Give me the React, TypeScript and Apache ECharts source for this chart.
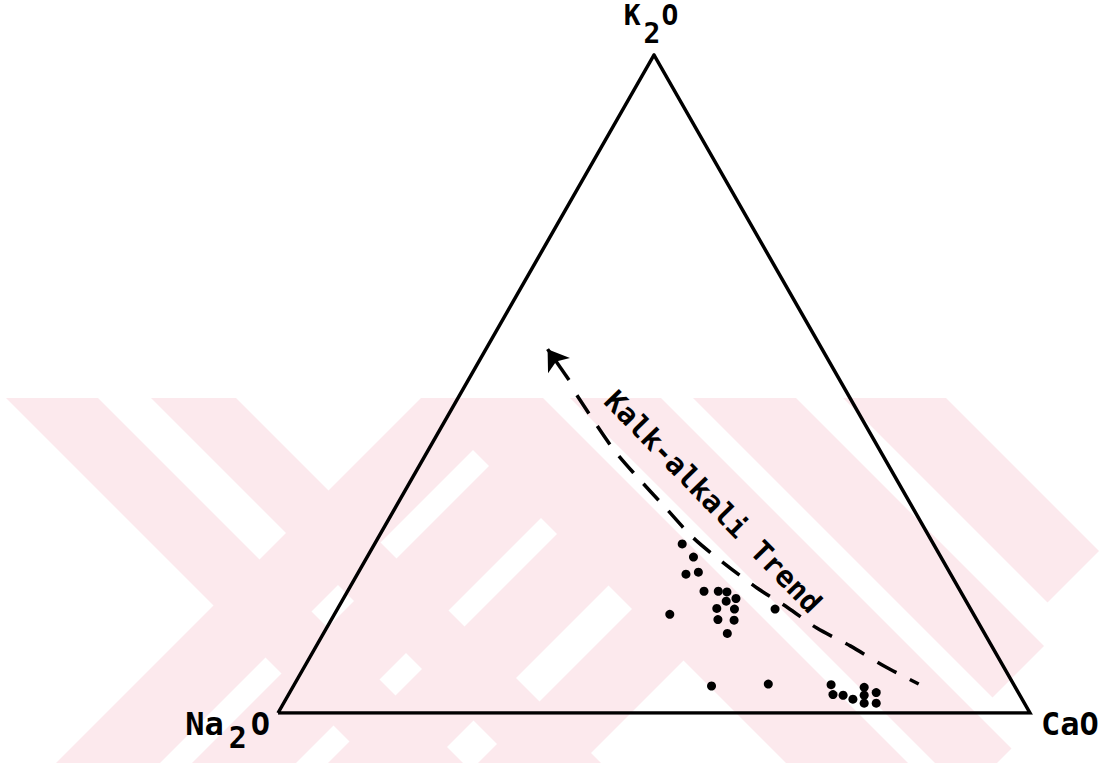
import { useEffect, useRef } from "react";
import * as echarts from "echarts";

// Sample compositions, normalised wt% (Na2O, K2O, CaO)
const sampleNa2O = [33.4, 32.9, 35.2, 33.4, 34.1, 32.2, 31.1, 31.9, 30.4, 33.7, 31.4, 40.4, 34.4, 32.3, 34.2, 26.0, 40.3, 32.6, 24.3, 24.8, 23.5, 22.5, 20.1, 20.7, 21.3, 18.9, 19.7];
const sampleK2O = [25.7, 23.7, 21.1, 21.4, 18.5, 18.5, 18.4, 17.0, 17.4, 15.9, 15.8, 15.0, 14.2, 14.1, 12.1, 15.8, 4.1, 4.4, 4.3, 2.8, 2.7, 2.1, 3.9, 2.7, 1.5, 3.1, 1.5];
const sampleCaO = [40.9, 43.4, 43.7, 45.2, 47.4, 49.3, 50.5, 51.1, 52.2, 50.4, 52.8, 44.6, 51.4, 53.6, 53.7, 58.2, 55.6, 63.0, 71.4, 72.4, 73.8, 75.4, 76.0, 76.6, 77.2, 78.0, 78.8];

// Calc-alkaline trend curve (Na2O, K2O, CaO)
const trendNa2O = [36.1, 35.4, 34.3, 32.9, 31.5, 29.4, 26.8, 24.2, 21.9, 18.8, 15.8, 12.6];
const trendK2O = [48.3, 40.4, 35.9, 31.3, 26.7, 22.9, 19.0, 16.0, 12.9, 10.2, 7.1, 4.4];
const trendCaO = [15.6, 24.2, 29.8, 35.8, 41.8, 47.7, 54.2, 59.8, 65.2, 71.0, 77.1, 83.0];

// Arrow head of the trend (tail -> tip)
const arrowTail = [36.0, 50.6, 13.4];
const arrowTip = [36.5, 55.3, 8.2];

// Anchor of the trend caption
const trendLabelAt = [26.1, 32.1, 41.8];
const trendLabel = "Kalk-alkali Trend";

// Apexes: Na2O, CaO, K2O
const apexNa2O = [100, 0, 0];
const apexCaO = [0, 0, 100];
const apexK2O = [0, 100, 0];

// (Na2O, K2O, CaO) -> plane coordinates, base 0..100, apex height 100
function toXY(c: number[]): number[] {
  const s = c[0] + c[1] + c[2];
  const k = (c[1] / s) * 100;
  const ca = (c[2] / s) * 100;
  return [ca + k / 2, k];
}

const MONO = "DejaVu Sans Mono";
const PINK = "#fce9ed";

// Background stamp made of 45° stripes.
// "\" stripes: [u0, u1, cut] with u = x - y, ending where x + y reaches cut.
const STAMP_TOP = 398;
const STAMP_BOTTOM = 800;
const backBands: number[][] = [
  [-392, -300, Infinity],
  [-247, -162, Infinity],
  [23, 145, Infinity],
  [172, 263, 1760],
  [295, 398, 1690],
  [445, 548, 1650],
];
// "/" stripes: [v0, v1, cut] with v = x + y, starting where x - y falls to cut
// (cut = -Infinity: starts at the top edge of the stamp).
const fwdBands: number[][] = [
  [819, 923, -Infinity],
  [955, 1059, 33],
  [1091, 1194, 33],
  [1241, 1344, 33],
];

function stampShapes() {
  const a = STAMP_TOP;
  const b = STAMP_BOTTOM;
  const out: any[] = [];
  const poly = (points: number[][]) => ({
    type: "polygon",
    z: -10,
    silent: true,
    shape: { points },
    style: { fill: PINK },
  });
  backBands.forEach(([u0, u1, cut]) => {
    if (Number.isFinite(cut)) {
      out.push(poly([[u0 + a, a], [u1 + a, a], [(cut + u1) / 2, (cut - u1) / 2], [(cut + u0) / 2, (cut - u0) / 2]]));
    } else {
      out.push(poly([[u0 + a, a], [u1 + a, a], [u1 + b, b], [u0 + b, b]]));
    }
  });
  fwdBands.forEach(([v0, v1, cut]) => {
    if (Number.isFinite(cut)) {
      out.push(poly([[(v0 + cut) / 2, (v0 - cut) / 2], [(v1 + cut) / 2, (v1 - cut) / 2], [v1 - b, b], [v0 - b, b]]));
    } else {
      out.push(poly([[v0 - a, a], [v1 - a, a], [v1 - b, b], [v0 - b, b]]));
    }
  });
  return out;
}

export default function App() {
  const ref = useRef<HTMLDivElement>(null);

  useEffect(() => {
    const chart = echarts.init(ref.current!, null, { renderer: "svg" });

    const samples = sampleNa2O.map((na, i) => toXY([na, sampleK2O[i], sampleCaO[i]]));
    const trend = trendNa2O.map((na, i) => toXY([na, trendK2O[i], trendCaO[i]]));
    const frame = [apexNa2O, apexCaO, apexK2O, apexNa2O].map(toXY);

    chart.setOption({
      animation: false,
      backgroundColor: "#ffffff",
      grid: { left: 278, right: 87, top: 55, bottom: 50 },
      xAxis: { type: "value", min: 0, max: 100, show: false },
      yAxis: { type: "value", min: 0, max: 100, show: false },
      series: [
        {
          type: "line",
          data: frame,
          symbol: "none",
          lineStyle: { color: "#000", width: 3.5, join: "miter" },
          z: 3,
        },
        {
          type: "line",
          data: trend,
          symbol: "none",
          smooth: 0.3,
          lineStyle: { color: "#000", width: 3.5, type: [22, 15] },
          z: 3,
          markLine: {
            silent: true,
            symbol: ["none", "arrow"],
            symbolSize: 20,
            label: { show: false },
            lineStyle: { color: "#000", width: 3.5, type: "solid" },
            itemStyle: { color: "#000" },
            data: [[{ coord: toXY(arrowTail) }, { coord: toXY(arrowTip) }]],
          },
        },
        {
          type: "scatter",
          data: samples,
          symbol: "circle",
          symbolSize: 9,
          itemStyle: { color: "#000", opacity: 1 },
          z: 4,
        },
        {
          type: "scatter",
          data: [toXY(trendLabelAt)],
          symbolSize: 0,
          silent: true,
          itemStyle: { color: "#000", opacity: 1 },
          label: {
            show: true,
            position: "inside",
            formatter: trendLabel,
            rotate: -45.8,
            fontFamily: MONO,
            fontWeight: "bold",
            fontSize: 29,
            color: "#000",
            textBorderWidth: 0,
            textShadowBlur: 0,
          },
          z: 4,
        },
      ],
    });

    const px = (c: number[]) => chart.convertToPixel({ gridIndex: 0 }, toXY(c)) as number[];
    const pNa = px(apexNa2O);
    const pCa = px(apexCaO);
    const pK = px(apexK2O);

    chart.setOption({
      graphic: [
        ...stampShapes(),
        {
          type: "text",
          z: 10,
          x: pNa[0] - 8,
          y: pNa[1] - 5.5,
          style: {
            text: "{a|Na}{b|2}{a|O}",
            align: "right",
            verticalAlign: "top",
            fill: "#000",
            rich: {
              a: { fontFamily: MONO, fontWeight: "bold", fontSize: 32, lineHeight: 32, verticalAlign: "top", fill: "#000" },
              b: { fontFamily: MONO, fontWeight: "bold", fontSize: 30, lineHeight: 60, verticalAlign: "middle", padding: [0, 4, 0, 5], fill: "#000" },
            },
          },
        },
        {
          type: "text",
          z: 10,
          x: pCa[0] + 11,
          y: pCa[1] + 10.5,
          style: {
            text: "CaO",
            align: "left",
            verticalAlign: "middle",
            fill: "#000",
            fontFamily: MONO,
            fontWeight: "bold",
            fontSize: 32,
          },
        },
        {
          type: "text",
          z: 10,
          x: pK[0] - 3,
          y: pK[1] - 54,
          style: {
            text: "{a|K}{b|2}{a|O}",
            align: "center",
            verticalAlign: "top",
            fill: "#000",
            rich: {
              a: { fontFamily: MONO, fontWeight: "bold", fontSize: 28, lineHeight: 28, verticalAlign: "top", fill: "#000" },
              b: { fontFamily: MONO, fontWeight: "bold", fontSize: 28, lineHeight: 64, verticalAlign: "middle", padding: [0, 1, 0, 3], fill: "#000" },
            },
          },
        },
      ],
    });

    return () => chart.dispose();
  }, []);

  return (
    <div
      ref={ref}
      style={{ position: "fixed", left: 0, top: 0, width: 1117, height: 763, background: "#fff" }}
    />
  );
}
